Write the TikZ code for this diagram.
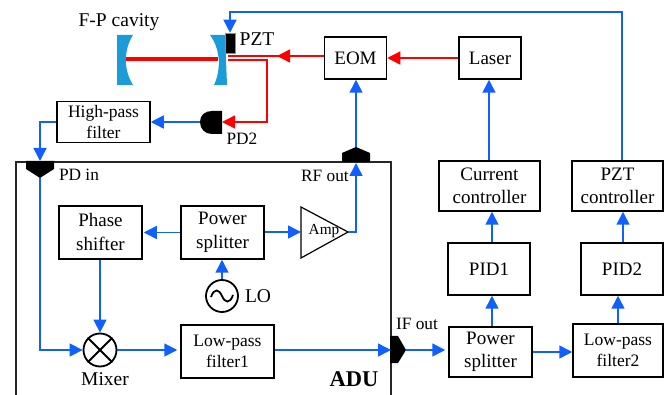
\documentclass[tikz,border=0pt]{standalone}
\usepackage{fontspec}
\setmainfont{Liberation Serif}
\usepackage{xcolor}
\usetikzlibrary{arrows.meta}
\definecolor{sigblue}{RGB}{16,96,255}
\definecolor{mirrorblue}{RGB}{27,156,216}

\begin{document}
\begin{tikzpicture}[x=1pt,y=-1pt,
    box/.style={draw,line width=1.5pt,inner sep=0pt,align=center,font=\fontsize{19}{24}\selectfont},
    smallbox/.style={box,font=\fontsize{17.5}{21}\selectfont},
    lbl/.style={inner sep=0pt,font=\fontsize{17.3}{20}\selectfont},
    biglbl/.style={inner sep=0pt,font=\fontsize{19.5}{22}\selectfont},
    elec/.style={-{Triangle[length=13pt,width=13pt]},sigblue,line width=1.5pt},
    opt/.style={-{Triangle[length=13pt,width=13pt]},red,line width=1.5pt},
    port/.style={fill=black,draw=none}]
    \useasboundingbox (0,0) rectangle (664,395);

    % ADU frame
    \draw[line width=1.2pt,black!85] (16,395) -- (16,162) -- (391,162) -- (391,395);
    \node[inner sep=0pt,font=\fontsize{22.5}{24}\bfseries\selectfont] (adu) at (354,379) {ADU};

    % Cavity
    \fill[mirrorblue] (117,35) -- (133,35) .. controls (123.5,50) and (123.5,70) .. (133,85) -- (117,85) -- cycle;
    \fill[mirrorblue] (210,35) -- (225,35) -- (227,85) -- (214,85) .. controls (221,70) and (221,50) .. (210,35);
    \coordinate (beamL) at (126,59);
    \coordinate (beamR) at (218,59);
    \draw[red,line width=3.5pt] (beamL) -- (beamR);
    \node[biglbl] (fp) at (119,22) {F-P cavity};
    \node[draw=black!45,fill=black,line width=.6pt,minimum width=10pt,minimum height=20pt,inner sep=0pt] (pzt) at (230,43) {};
    \node[biglbl] (pztlbl) at (257,39) {PZT};

    % Boxes
    \node[box,minimum width=62pt,minimum height=42pt] (eom) at (355.5,58) {EOM};
    \node[box,minimum width=62pt,minimum height=42pt] (laser) at (490,58) {Laser};
    \node[smallbox,minimum width=93pt,minimum height=41pt] (hp) at (103.5,122) {High-pass\\filter};
    \node[box,minimum width=101pt,minimum height=50pt,font=\fontsize{19}{23}\selectfont] (current) at (489.5,186) {Current\\controller};
    \node[box,minimum width=91pt,minimum height=50pt,font=\fontsize{19}{23}\selectfont] (pztctrl) at (617.5,186) {PZT\\controller};
    \node[box,minimum width=82pt,minimum height=52pt] (pid1) at (489,269) {PID1};
    \node[box,minimum width=82pt,minimum height=52pt] (pid2) at (622,269) {PID2};
    \node[box,minimum width=83pt,minimum height=50pt,font=\fontsize{19}{23}\selectfont] (splitB) at (490.5,352) {Power\\splitter};
    \node[smallbox,minimum width=90pt,minimum height=53pt] (lpB) at (618,350.5) {Low-pass\\filter2};
    \node[box,minimum width=83pt,minimum height=53pt] (phase) at (100.5,232.5) {Phase\\shifter};
    \node[box,minimum width=83pt,minimum height=53pt] (splitA) at (222.5,232.5) {Power\\splitter};
    \node[smallbox,minimum width=93pt,minimum height=53pt] (lpA) at (227.5,351.5) {Low-pass\\filter1};

    % Amp, LO, mixer
    \coordinate (ampin) at (301,232);
    \coordinate (amptip) at (348,232);
    \draw[line width=1.2pt] (301,207) -- (amptip) -- (301,258) -- cycle;
    \node[inner sep=0pt,font=\fontsize{15.3}{18}\selectfont] (amp) at (324,231) {Amp};
    \node[circle,draw,line width=1.8pt,minimum size=32pt,inner sep=0pt] (lo) at (222,296) {};
    \draw[line width=1.8pt] (211,297) .. controls (214,288) and (219,289) .. (lo.center) .. controls (225,303) and (230,304) .. (233,295);
    \node[biglbl] (lolbl) at (258,296) {LO};
    \node[circle,draw,line width=1.8pt,minimum size=33pt,inner sep=0pt] (mixer) at (100,350) {};
    \draw[line width=1.8pt] (mixer.45) -- (mixer.225) (mixer.135) -- (mixer.315);
    \node[biglbl] (mixlbl) at (105,379) {Mixer};

    % Ports
    \coordinate (pdinT) at (40,161);
    \coordinate (pdinB) at (40,178);
    \fill[port] (26,161) -- (54,161) -- (54,169) -- (pdinB) -- (26,169) -- cycle;
    \node[lbl] (pdin) at (79,175) {PD in};
    \coordinate (rfoutT) at (356,147);
    \coordinate (rfoutB) at (356,163);
    \fill[port] (342,162) -- (342,153) -- (rfoutT) -- (370,153) -- (370,162) -- cycle;
    \node[lbl] (rfout) at (325,176) {RF out};
    \coordinate (ifoutL) at (391,350);
    \coordinate (ifoutR) at (406,350);
    \fill[port] (390,336) -- (398,336) -- (ifoutR) -- (398,363) -- (390,363) -- cycle;
    \node[lbl] (ifout) at (417,324) {IF out};
    \coordinate (pdtwo) at (222,122);
    \coordinate (pdtwoL) at (200,122);
    \fill[port] (222,111) -- (212,111) .. controls (205,111) and (200,115) .. (pdtwoL) .. controls (200,129) and (205,134) .. (212,134) -- (222,134) -- cycle;
    \node[lbl] (pdtwolbl) at (242,139) {PD2};

    % Optical paths
    \coordinate (pztin) at (228,56);
    \coordinate (refl) at (228,60);
    \coordinate (turn) at (267,60);
    \coordinate (redtip) at (277,56);
    \coordinate (redtail) at (291,56);
    \draw[opt] (laser.west) -- (eom.east);
    \draw[red,line width=1.5pt] ([yshift=2pt]eom.west) -- (pztin);
    \draw[opt] (redtail) -- (redtip);
    \draw[opt] (refl) -- (turn) |- (pdtwo);

    % Signal paths
    \draw[elec] (pdtwoL) -- (hp.east);
    \draw[elec] (hp.west) -| (pdinT);
    \draw[elec] (pdinB) |- (mixer.west);
    \draw[elec] (phase.south -| mixer) -- (mixer.north);
    \draw[elec] (mixer.east) -- ([xshift=-3pt]mixer.east -| lpA.west);
    \draw[elec] (lpA.east |- ifoutL) -- (ifoutL);
    \draw[elec] (ifoutR) -- ([xshift=-3pt]ifoutR -| splitB.west);
    \draw[elec] (splitA.west) -- ([xshift=1pt]phase.east |- splitA.west);
    \draw[elec] (splitA.east |- ampin) -- (ampin);
    \draw[elec] (lo.north) -- (lo.north |- splitA.south);
    \draw[elec] (amptip) -- (rfoutB |- amptip) -- (rfoutB);
    \draw[elec] (rfoutT) -- (rfoutT |- eom.south);
    \draw[elec] (splitB.east) -- (splitB.east -| lpB.west);
    \draw[elec] ([xshift=1.5pt]splitB.north) -- ([xshift=3pt]pid1.south);
    \draw[elec] ([xshift=3pt]pid1.north) -- ([xshift=2.5pt]current.south);
    \draw[elec] ([xshift=-.5pt]current.north) -- ([xshift=-.5pt]laser.south -| current.north);
    \draw[elec] (lpB.north) -- (lpB.north |- pid2.south);
    \draw[elec] ([xshift=1pt]pid2.north) -- ([xshift=5.5pt]pztctrl.south);
    \coordinate (pzttop) at (230,12);
    \draw[elec] ([xshift=4.5pt]pztctrl.north) |- (pzttop) -- (pzt.north);
\end{tikzpicture}
\end{document}
